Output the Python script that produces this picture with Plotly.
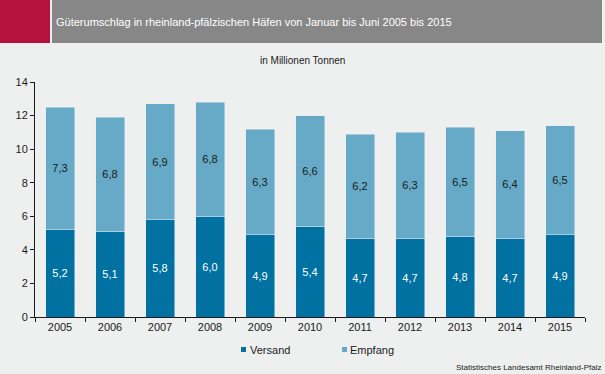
import plotly.graph_objects as go

years = ["2005", "2006", "2007", "2008", "2009", "2010", "2011", "2012", "2013", "2014", "2015"]
versand = [5.2, 5.1, 5.8, 6.0, 4.9, 5.4, 4.7, 4.7, 4.8, 4.7, 4.9]
empfang = [7.3, 6.8, 6.9, 6.8, 6.3, 6.6, 6.2, 6.3, 6.5, 6.4, 6.5]
y_ticks = [0, 2, 4, 6, 8, 10, 12, 14]

title_text = "Güterumschlag in rheinland-pfälzischen Häfen von Januar bis Juni 2005 bis 2015"
subtitle_text = "in Millionen Tonnen"
source_text = "Statistisches Landesamt Rheinland-Pfalz"

c_versand = "#0071a1"
c_empfang = "#66aac8"
bg = "#eef0ef"
font = "Liberation Sans, Arial, sans-serif"


def fmt(v):
    return f"{v:.1f}".replace(".", ",")


fig = go.Figure()
fig.add_trace(go.Bar(
    x=years, y=versand, name="Versand", marker_color=c_versand,
    text=[fmt(v) for v in versand], textposition="inside", insidetextanchor="middle",
    textfont=dict(color="white", size=11, family=font), showlegend=False,
    hovertemplate="%{x}: %{y}<extra>Versand</extra>"))
fig.add_trace(go.Bar(
    x=years, y=empfang, name="Empfang", marker_color=c_empfang,
    text=[fmt(v) for v in empfang], textposition="inside", insidetextanchor="middle",
    textfont=dict(color="#1a1a1a", size=11, family=font), showlegend=False,
    hovertemplate="%{x}: %{y}<extra>Empfang</extra>"))

W, H = 605, 374
L, R, T, B = 35, 20, 82, 57
pw, ph = W - L - R, H - T - B


def px(x):
    return (x - L) / pw


def py(y):
    return (H - B - y) / ph


shapes = [
    dict(type="rect", xref="paper", yref="paper", x0=px(0), x1=px(50), y0=py(43), y1=py(0),
         fillcolor="#b5123e", line_width=0, layer="below"),
    dict(type="rect", xref="paper", yref="paper", x0=px(52), x1=px(602), y0=py(43), y1=py(0),
         fillcolor="#878787", line_width=0, layer="below"),
    # manual legend squares
    dict(type="rect", xref="paper", yref="paper", x0=px(241), x1=px(246), y0=py(352), y1=py(347),
         fillcolor=c_versand, line_width=0),
    dict(type="rect", xref="paper", yref="paper", x0=px(342), x1=px(347), y0=py(352), y1=py(347),
         fillcolor=c_empfang, line_width=0),
]

annotations = [
    dict(text=title_text, xref="paper", yref="paper", x=px(54), y=py(21.5), xanchor="left",
         yanchor="middle", showarrow=False, font=dict(color="white", size=11, family=font)),
    dict(text=subtitle_text, xref="paper", yref="paper", x=px(302.5), y=py(60), xanchor="center",
         yanchor="middle", showarrow=False, font=dict(color="#1a1a1a", size=10, family=font)),
    dict(text="Versand", xref="paper", yref="paper", x=px(248), y=py(350), xanchor="left",
         yanchor="middle", showarrow=False, font=dict(color="#1a1a1a", size=11, family=font)),
    dict(text="Empfang", xref="paper", yref="paper", x=px(348), y=py(350), xanchor="left",
         yanchor="middle", showarrow=False, font=dict(color="#1a1a1a", size=11, family=font)),
    dict(text=source_text, xref="paper", yref="paper", x=px(603), y=py(367), xanchor="right",
         yanchor="middle", showarrow=False, font=dict(color="#1a1a1a", size=8, family=font)),
]

fig.update_layout(
    width=W, height=H, barmode="stack", bargap=0.42,
    paper_bgcolor=bg, plot_bgcolor=bg,
    margin=dict(l=L, r=R, t=T, b=B),
    font=dict(family=font, size=11, color="#1a1a1a"),
    shapes=shapes, annotations=annotations, showlegend=False,
)
fig.update_xaxes(
    type="category", showline=True, linecolor="#1a1a1a", linewidth=1,
    ticks="outside", tickson="boundaries", ticklen=4, tickcolor="#1a1a1a",
    showgrid=False, tickfont=dict(size=11, family=font, color="#1a1a1a"),
)
fig.update_yaxes(
    range=[0, 14], tickvals=y_ticks, showline=True, linecolor="#1a1a1a", linewidth=1,
    ticks="outside", ticklen=4, tickcolor="#1a1a1a", showgrid=False, zeroline=False,
    tickfont=dict(size=11, family=font, color="#1a1a1a"),
)

fig.write_html(
    "out.html",
    config={"displayModeBar": False},
    post_script="document.body.style.margin='0';document.body.style.overflow='hidden';"
                "document.body.style.background='" + bg + "';",
)
